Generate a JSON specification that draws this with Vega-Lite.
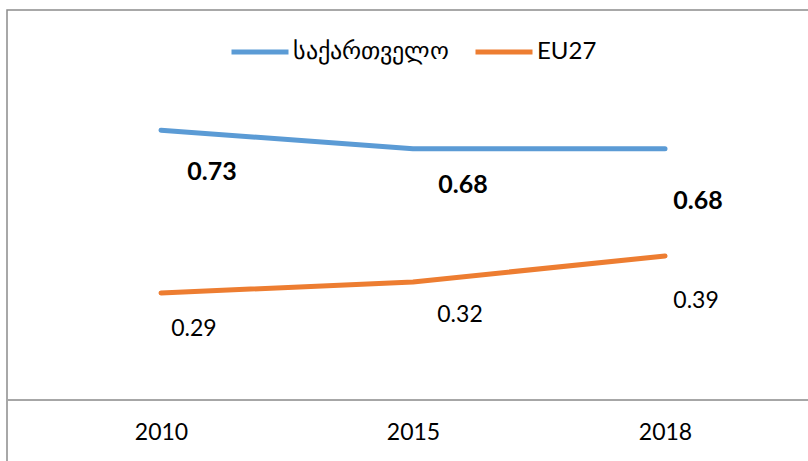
{
  "$schema": "https://vega.github.io/schema/vega-lite/v6.json",
  "width": 812,
  "height": 455,
  "autosize": {"type": "none"},
  "padding": {"left": 7, "top": 10, "right": 0, "bottom": 0},
  "background": "white",
  "config": {
    "view": {"stroke": "#8c8c8c", "strokeWidth": 1.5},
    "font": "Lato",
    "text": {"align": "center", "baseline": "middle", "color": "#000000", "font": "Lato"}
  },
  "data": {
    "values": [
      {"year": "2010", "series": "საქართველო", "value": 0.73},
      {"year": "2015", "series": "საქართველო", "value": 0.68},
      {"year": "2018", "series": "საქართველო", "value": 0.68},
      {"year": "2010", "series": "EU27", "value": 0.29},
      {"year": "2015", "series": "EU27", "value": 0.32},
      {"year": "2018", "series": "EU27", "value": 0.39}
    ]
  },
  "encoding": {
    "x": {
      "field": "year", "type": "ordinal",
      "scale": {"type": "point", "padding": 0.611},
      "axis": {"orient": "bottom", "offset": -65, "domain": false, "ticks": false, "grid": false, "labelAngle": 0, "labelFontSize": 23, "labelColor": "#000000", "labelPadding": 21, "title": null, "labelFont": "Lato"}
    },
    "y": {"field": "value", "type": "quantitative", "scale": {"domain": [-0.175, 1.055], "nice": false, "zero": false}, "axis": null},
    "text": {"field": "value", "type": "quantitative", "format": ".2f"}
  },
  "layer": [
    {
      "mark": {"type": "rule", "color": "#a6a6a6", "strokeWidth": 1.5},
      "encoding": {
        "x": null,
        "text": null,
        "y": {"datum": 0, "type": "quantitative"}
      }
    },
    {
      "mark": {"type": "line", "strokeWidth": 5, "strokeCap": "round", "strokeJoin": "round"},
      "encoding": {
        "text": null,
        "color": {
          "field": "series", "type": "nominal",
          "scale": {"domain": ["საქართველო", "EU27"], "range": ["#5B9BD5", "#ED7D31"]},
          "legend": {
            "orient": "none", "legendX": 222, "legendY": 11, "direction": "horizontal", "title": null,
            "symbolType": "stroke", "symbolStrokeWidth": 5, "symbolSize": 3249,
            "labelFontSize": 24, "labelFont": "Lato", "labelColor": "#000000", "labelLimit": 400,
            "columnPadding": 16, "labelOffset": 2
          }
        }
      }
    },
    {
      "transform": [{"filter": "datum.series === 'საქართველო' && datum.year === '2010'"}],
      "mark": {"type": "text", "fontSize": 25, "fontWeight": "bold", "dx": 51, "dy": 42}
    },
    {
      "transform": [{"filter": "datum.series === 'საქართველო' && datum.year === '2015'"}],
      "mark": {"type": "text", "fontSize": 25, "fontWeight": "bold", "dx": 50, "dy": 36}
    },
    {
      "transform": [{"filter": "datum.series === 'საქართველო' && datum.year === '2018'"}],
      "mark": {"type": "text", "fontSize": 25, "fontWeight": "bold", "dx": 33, "dy": 52}
    },
    {
      "transform": [{"filter": "datum.series === 'EU27' && datum.year === '2010'"}],
      "mark": {"type": "text", "fontSize": 23, "dx": 33, "dy": 36}
    },
    {
      "transform": [{"filter": "datum.series === 'EU27' && datum.year === '2015'"}],
      "mark": {"type": "text", "fontSize": 23, "dx": 47, "dy": 33}
    },
    {
      "transform": [{"filter": "datum.series === 'EU27' && datum.year === '2018'"}],
      "mark": {"type": "text", "fontSize": 23, "dx": 31, "dy": 45}
    }
  ]
}
